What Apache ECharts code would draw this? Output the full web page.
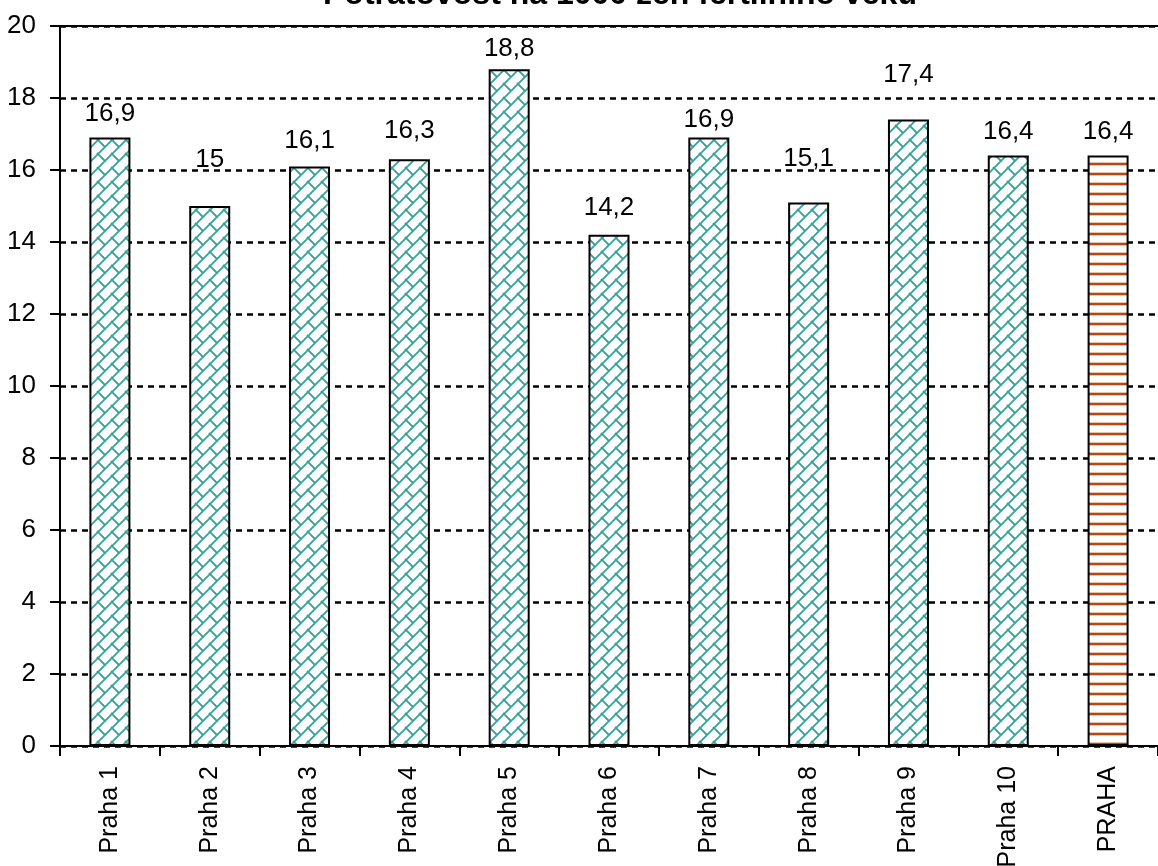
<!DOCTYPE html>
<html><head><meta charset="utf-8">
<script src="https://cdn.jsdelivr.net/npm/echarts@6/dist/echarts.min.js"></script>
<style>html,body{margin:0;padding:0;background:#fff}#c{width:1158px;height:866px}</style>
</head><body><div id="c"></div>
<script>
var titleText = 'Potratovost na 1000 žen fertilního věku';
var categories = ['Praha 1','Praha 2','Praha 3','Praha 4','Praha 5','Praha 6','Praha 7','Praha 8','Praha 9','Praha 10','PRAHA'];
var values = [16.9, 15, 16.1, 16.3, 18.8, 14.2, 16.9, 15.1, 17.4, 16.4, 16.4];
var yTicks = [0,2,4,6,8,10,12,14,16,18,20];
// style only: extra lift (px) of each value label, as placed in the original chart
var labelLift = [0, 22, 2, 4, -4, 3, -6, 20, 21, 0, 0];

function brickPattern(){
  var s = 14;
  var c = document.createElement('canvas');
  c.width = s; c.height = s;
  var g = c.getContext('2d');
  g.fillStyle = '#fff'; g.fillRect(0,0,s,s);
  g.strokeStyle = '#35a19b'; g.lineWidth = 1.8;
  g.beginPath();
  g.moveTo(-2,s+2); g.lineTo(s+2,-2);
  g.moveTo(-1,-1); g.lineTo(s/2,s/2);
  g.moveTo(s-1,s-1); g.lineTo(s+1,s+1);
  g.stroke();
  return c;
}
function stripePattern(){
  var c = document.createElement('canvas');
  c.width = 8; c.height = 10;
  var g = c.getContext('2d');
  g.fillStyle = '#fff'; g.fillRect(0,0,8,10);
  g.fillStyle = '#e8c2aa'; g.fillRect(0,2,8,4);
  g.fillStyle = '#b24a17'; g.fillRect(0,3,8,2);
  return c;
}
var green = {image: brickPattern(), repeat: 'repeat'};
var brown = {image: stripePattern(), repeat: 'repeat'};
var narrow = '"Liberation Sans Narrow", "Arial Narrow", "Liberation Sans", Arial, sans-serif';
var font = '"Liberation Sans", Arial, sans-serif';

var chart = echarts.init(document.getElementById('c'));
chart.setOption({
  animation: false,
  title: {text: titleText, left: 318, top: -26, textStyle: {fontFamily: font, fontSize: 32, fontWeight: 'bold', color: '#000'}},
  grid: {left: 60, top: 26, right: 0, bottom: 120, containLabel: false, outerBoundsMode: 'none'},
  xAxis: {
    type: 'category', data: categories,
    axisLine: {lineStyle: {color: '#000', width: 2}},
    axisTick: {show: true, length: 10, lineStyle: {color: '#000', width: 2}},
    axisLabel: {rotate: 90, margin: 20, fontFamily: narrow, fontSize: 25, color: '#000'}
  },
  yAxis: {
    type: 'value', min: yTicks[0], max: yTicks[yTicks.length-1], interval: 2,
    axisLine: {show: true, lineStyle: {color: '#000', width: 2}},
    axisTick: {show: true, length: 10, lineStyle: {color: '#000', width: 2}},
    axisLabel: {margin: 24, fontFamily: narrow, fontSize: 26, color: '#000'},
    splitLine: {show: true, lineStyle: {color: '#000', width: 2.5, type: [6,5]}}
  },
  series: [{
    type: 'bar', barWidth: 41,
    data: values.map(function(v, i){
      return {value: v, itemStyle: {color: i === values.length-1 ? brown : green},
        label: {offset: [0, -labelLift[i]]}};
    }),
    itemStyle: {borderColor: '#000', borderWidth: 2},
    label: {show: true, position: 'top', distance: 11, fontFamily: narrow, fontSize: 26, color: '#000',
      formatter: function(p){ return String(p.value).replace('.', ','); }},
    markLine: {silent: true, symbol: 'none', label: {show: false},
      lineStyle: {color: '#000', width: 2, type: 'solid'}, data: [{yAxis: 20}]}
  }]
});
</script></body></html>
